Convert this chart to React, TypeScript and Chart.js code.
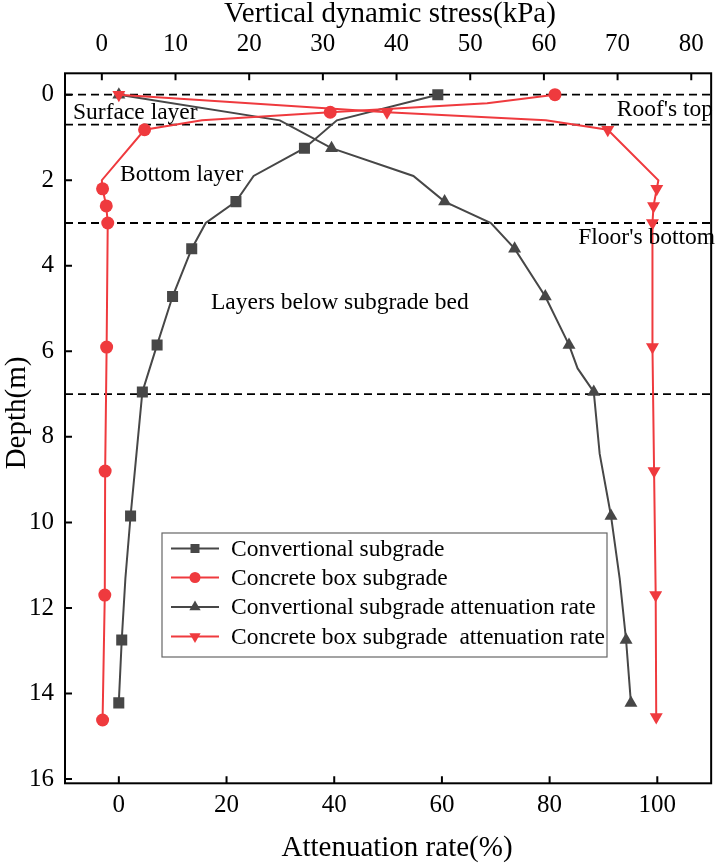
import React, { useEffect, useRef } from 'react';
import { Chart, registerables } from 'chart.js';

Chart.register(...registerables);

// ---------- data ----------
const depthConv = [0, 0.6, 1.25, 1.9, 2.5, 3.0, 3.6, 4.72, 5.85, 6.4, 6.95, 8.4, 9.85, 11.3, 12.75, 14.22];
const convStress = [45.6, 31.9, 27.5, 20.6, 18.2, 14.1, 12.2, 9.6, 7.5, 6.5, 5.5, 4.7, 3.9, 3.2, 2.7, 2.3];
const convRate = [0, 29.9, 39.5, 54.7, 60.5, 69.1, 73.5, 79.2, 83.6, 85.2, 88.2, 89.3, 91.4, 93.0, 94.2, 95.1];
const convMarkers = [1, 0, 1, 0, 1, 0, 1, 1, 1, 0, 1, 0, 1, 0, 1, 1];

const depthBoxStress = [0, 0.2, 0.41, 0.6, 0.82, 2.0, 2.2, 2.6, 3.0, 5.9, 8.8, 11.7, 14.62];
const boxStress = [61.5, 52.3, 31.0, 13.6, 5.8, 0.0, 0.1, 0.6, 0.8, 0.65, 0.45, 0.4, 0.1];
const boxStressMarkers = [1, 0, 1, 0, 1, 0, 1, 1, 1, 1, 1, 1, 1];

const depthBoxRate = [0, 0.41, 0.6, 0.82, 2.0, 2.2, 2.6, 3.0, 5.9, 8.8, 11.7, 14.55];
const boxRate = [0, 49.8, 79.3, 90.8, 100.2, 99.9, 99.3, 99.1, 99.1, 99.4, 99.7, 99.8];
const boxRateMarkers = [1, 1, 0, 1, 0, 1, 1, 1, 1, 1, 1, 1];

const boundaryDepths = [0, 0.7, 3, 7];
const rateTicks = [0, 20, 40, 60, 80, 100];
const stressTicks = [0, 10, 20, 30, 40, 50, 60, 70, 80];
const depthTicks = [0, 2, 4, 6, 8, 10, 12, 14, 16];

const legendLabels = [
  'Convertional subgrade',
  'Concrete box subgrade',
  'Convertional subgrade attenuation rate',
  'Concrete box subgrade  attenuation rate',
];
const layerLabels = ['Surface layer', 'Bottom layer', "Roof's top", "Floor's bottom", 'Layers below subgrade bed'];

const topTitle = 'Vertical dynamic stress(kPa)';
const bottomTitle = 'Attenuation rate(%)';
const leftTitle = 'Depth(m)';

// ---------- styles ----------
const GRAY = '#474747';
const RED = '#ef3a3e';
const FONT = "'Liberation Serif', 'Times New Roman', serif";

function drawMarker(ctx: CanvasRenderingContext2D, style: string, x: number, y: number, r: number, color: string) {
  ctx.save();
  ctx.fillStyle = color;
  ctx.beginPath();
  if (style === 'rect') {
    ctx.rect(x - r, y - r, 2 * r, 2 * r);
  } else if (style === 'circle') {
    ctx.arc(x, y, r, 0, Math.PI * 2);
  } else if (style === 'up') {
    ctx.moveTo(x, y - r);
    ctx.lineTo(x + r * 0.87, y + r * 0.5);
    ctx.lineTo(x - r * 0.87, y + r * 0.5);
    ctx.closePath();
  } else {
    ctx.moveTo(x, y + r);
    ctx.lineTo(x + r * 0.87, y - r * 0.5);
    ctx.lineTo(x - r * 0.87, y - r * 0.5);
    ctx.closePath();
  }
  ctx.fill();
  ctx.restore();
}

const extrasPlugin = {
  id: 'extras',
  afterDraw(chart: any) {
    const ctx: CanvasRenderingContext2D = chart.ctx;
    const { left, right, top, bottom } = chart.chartArea;
    const sx = chart.scales.x;
    const sx2 = chart.scales.x2;
    const sy = chart.scales.y;
    ctx.save();
    // frame
    ctx.strokeStyle = '#000';
    ctx.lineWidth = 2;
    ctx.strokeRect(left, top, right - left, bottom - top);
    // inward ticks
    const tl = 7;
    ctx.beginPath();
    rateTicks.forEach((v) => {
      const p = sx.getPixelForValue(v);
      ctx.moveTo(p, bottom);
      ctx.lineTo(p, bottom - tl);
    });
    stressTicks.forEach((v) => {
      const p = sx2.getPixelForValue(v);
      ctx.moveTo(p, top);
      ctx.lineTo(p, top + tl);
    });
    depthTicks.forEach((v) => {
      const p = sy.getPixelForValue(v);
      ctx.moveTo(left, p);
      ctx.lineTo(left + tl, p);
    });
    ctx.stroke();

    // titles
    ctx.fillStyle = '#000';
    ctx.font = `29px ${FONT}`;
    ctx.textAlign = 'center';
    ctx.textBaseline = 'middle';
    ctx.fillText(topTitle, 390, 14);
    ctx.fillText(bottomTitle, 397, 848);
    ctx.save();
    ctx.translate(17, 413);
    ctx.rotate(-Math.PI / 2);
    ctx.fillText(leftTitle, 0, 0);
    ctx.restore();

    // layer annotations
    ctx.font = `23.5px ${FONT}`;
    ctx.textBaseline = 'alphabetic';
    ctx.textAlign = 'left';
    ctx.fillText(layerLabels[0], 73, 119);
    ctx.fillText(layerLabels[1], 120, 181);
    ctx.fillText(layerLabels[4], 211, 309);
    ctx.textAlign = 'right';
    ctx.fillText(layerLabels[2], 713, 116);
    ctx.fillText(layerLabels[3], 715, 244);

    // legend
    const bx = 162, by = 533, bw = 445, bh = 124;
    ctx.fillStyle = '#fff';
    ctx.fillRect(bx, by, bw, bh);
    ctx.strokeStyle = '#666';
    ctx.lineWidth = 1.2;
    ctx.strokeRect(bx, by, bw, bh);
    const rows = [548.5, 577.5, 607, 636.5];
    const styles = [
      { c: GRAY, m: 'rect', r: 4.5 },
      { c: RED, m: 'circle', r: 5.5 },
      { c: GRAY, m: 'up', r: 6.5 },
      { c: RED, m: 'down', r: 6.5 },
    ];
    ctx.font = `23.5px ${FONT}`;
    ctx.textAlign = 'left';
    ctx.textBaseline = 'middle';
    rows.forEach((ry, i) => {
      const st = styles[i];
      ctx.strokeStyle = st.c;
      ctx.lineWidth = 2;
      ctx.beginPath();
      ctx.moveTo(171, ry);
      ctx.lineTo(219, ry);
      ctx.stroke();
      drawMarker(ctx, st.m, 195, ry, st.r, st.c);
      ctx.fillStyle = '#000';
      ctx.fillText(legendLabels[i], 231, ry + 1);
    });
    ctx.restore();
  },
};

function pts(xs: number[], ys: number[]) {
  return ys.map((y, i) => ({ x: xs[i], y }));
}

export default function App() {
  const ref = useRef<HTMLCanvasElement | null>(null);
  useEffect(() => {
    if (!ref.current) return;
    const tickFont = { family: FONT, size: 25, lineHeight: 1 };
    const chart = new Chart(ref.current, {
      type: 'scatter',
      data: {
        datasets: [
          {
            label: legendLabels[3],
            data: pts(boxRate, depthBoxRate),
            xAxisID: 'x',
            yAxisID: 'y',
            showLine: true,
            borderColor: RED,
            backgroundColor: RED,
            borderWidth: 2,
            pointStyle: 'triangle',
            pointRotation: 180,
            pointRadius: boxRateMarkers.map((m) => (m ? 7.5 : 0)),
            pointBorderWidth: 0,
          } as any,
          {
            label: legendLabels[1],
            data: pts(boxStress, depthBoxStress),
            xAxisID: 'x2',
            yAxisID: 'y',
            showLine: true,
            borderColor: RED,
            backgroundColor: RED,
            borderWidth: 2,
            pointStyle: 'circle',
            pointRadius: boxStressMarkers.map((m) => (m ? 6.5 : 0)),
            pointBorderWidth: 0,
          },
          {
            label: legendLabels[2],
            data: pts(convRate, depthConv),
            xAxisID: 'x',
            yAxisID: 'y',
            showLine: true,
            borderColor: GRAY,
            backgroundColor: GRAY,
            borderWidth: 2,
            pointStyle: 'triangle',
            pointRadius: convMarkers.map((m) => (m ? 7.5 : 0)),
            pointBorderWidth: 0,
          },
          {
            label: legendLabels[0],
            data: pts(convStress, depthConv),
            xAxisID: 'x2',
            yAxisID: 'y',
            showLine: true,
            borderColor: GRAY,
            backgroundColor: GRAY,
            borderWidth: 2,
            pointStyle: 'rect',
            pointRadius: convMarkers.map((m) => (m ? 7.8 : 0)),
            pointBorderWidth: 0,
          },
          ...boundaryDepths.map((d) => ({
            label: 'boundary',
            data: [
              { x: -10, y: d },
              { x: 110, y: d },
            ],
            xAxisID: 'x',
            yAxisID: 'y',
            showLine: true,
            borderColor: '#000',
            borderWidth: 1.8,
            borderDash: [8, 5],
            pointRadius: 0,
          })),
        ],
      },
      options: {
        animation: false,
        responsive: false,
        maintainAspectRatio: false,
        layout: { padding: { left: 0, right: 4, top: 0, bottom: 0 } },
        plugins: { legend: { display: false }, tooltip: { enabled: false } },
        events: [],
        scales: {
          x: {
            type: 'linear',
            position: 'bottom',
            min: -10,
            max: 110,
            grid: { display: false, drawTicks: false },
            border: { display: false },
            ticks: { font: tickFont, color: '#000', padding: 10 },
            afterBuildTicks: (s: any) => {
              s.ticks = rateTicks.map((v) => ({ value: v }));
            },
            afterFit: (s: any) => {
              s.height = 80.7;
            },
          },
          x2: {
            type: 'linear',
            position: 'top',
            min: -5,
            max: 82.7,
            grid: { display: false, drawTicks: false },
            border: { display: false },
            ticks: { font: tickFont, color: '#000', padding: 16 },
            afterBuildTicks: (s: any) => {
              s.ticks = stressTicks.map((v) => ({ value: v }));
            },
            afterFit: (s: any) => {
              s.height = 73.3;
            },
          },
          y: {
            type: 'linear',
            position: 'left',
            reverse: true,
            min: -0.5,
            max: 16.1,
            grid: { display: false, drawTicks: false },
            border: { display: false },
            ticks: { font: tickFont, color: '#000', padding: 11 },
            afterBuildTicks: (s: any) => {
              s.ticks = depthTicks.map((v) => ({ value: v }));
            },
            afterFit: (s: any) => {
              s.width = 65;
            },
          },
        },
      } as any,
      plugins: [extrasPlugin],
    });
    return () => chart.destroy();
  }, []);
  return (
    <div style={{ position: 'fixed', left: 0, top: 0, width: 720, height: 864, background: '#fff' }}>
      <canvas ref={ref} width={720} height={864} style={{ display: 'block' }} />
    </div>
  );
}
